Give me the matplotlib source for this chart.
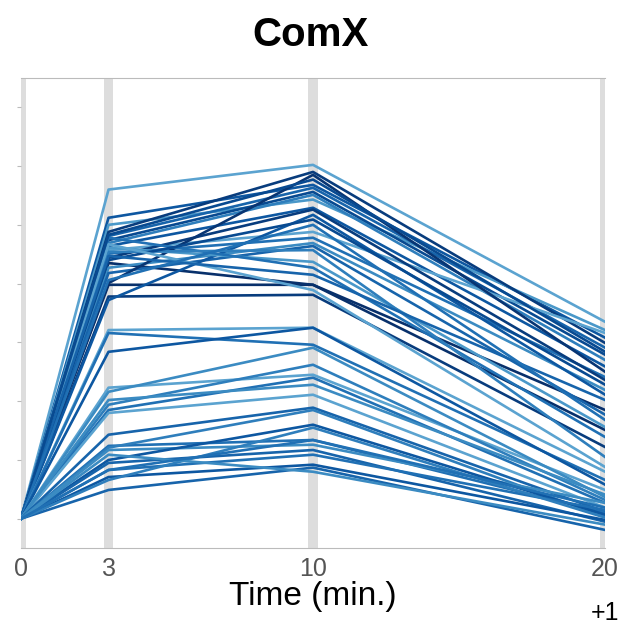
import numpy as np
import matplotlib.pyplot as plt

plt.rcParams['font.family'] = ['Liberation Sans', 'DejaVu Sans']

# time points (min.)
times = [0, 3, 10, 20]
tick_labels = ['0', '3', '10', '20']

# values at t=3, t=10, t=20 (all series start at 0)
v3 = [5.60, 5.12, 5.00, 4.88, 4.81, 4.74, 4.69, 4.64, 4.57, 4.51,
      4.44, 4.35, 4.27, 4.18, 4.01, 3.98, 3.78, 3.72, 4.61, 4.78,
      4.54, 4.40, 4.67, 4.47, 4.83, 4.06,
      3.21, 3.16, 2.84,
      2.23, 2.16, 1.94, 1.85, 1.80, 2.02,
      1.43, 1.24, 1.21, 1.17, 1.00, 0.95, 0.83, 0.71, 0.49, 0.66, 1.09, 0.83]
v10 = [6.02, 5.68, 5.43, 5.90, 5.63, 5.56, 5.51, 5.29, 4.88, 4.78,
       5.26, 3.98, 4.69, 4.64, 5.85, 3.98, 3.81, 5.17, 4.37, 4.27,
       4.57, 5.09, 3.89, 4.15, 5.77, 5.00,
       3.25, 2.96, 3.25,
       2.45, 2.91, 2.62, 2.40, 2.11, 2.28,
       1.89, 1.34, 1.85, 1.26, 1.60, 1.17, 1.09, 0.92, 0.87, 1.55, 0.80, 1.34]
v20 = [3.35, 3.08, 3.21, 2.99, 2.91, 2.79, 2.70, 2.59, 3.16, 2.41,
       2.36, 1.85, 2.19, 1.77, 2.50, 1.51, 1.22, 2.11, 1.56, 1.39,
       1.05, 2.28, 0.88, 2.02, 2.84, 1.68,
       0.80, 0.66, 0.58,
       0.49, 0.37, 0.32, 0.27, 0.19, 0.41,
       0.12, 0.10, 0.03, 0.27, 0.07, -0.05, 0.15, -0.02, -0.19, 0.02, -0.10, 0.19]

# colour shade of each series in the Blues map
shade = [0.55, 0.85, 0.60, 0.95, 0.80, 0.90, 0.70, 0.85, 0.55, 0.75,
         0.95, 1.00, 0.65, 0.80, 0.98, 1.00, 0.95, 0.85, 0.60, 0.75,
         0.70, 0.90, 0.55, 0.80, 0.90, 0.75,
         0.55, 0.75, 0.85,
         0.55, 0.65, 0.70, 0.75, 0.55, 0.65,
         0.80, 0.75, 0.70, 0.65, 0.85, 0.80, 0.75, 0.85, 0.80, 0.70, 0.65, 0.75]

fig = plt.figure(figsize=(6.33, 6.33), dpi=100)
ax = fig.add_axes([0.033, 0.134, 0.923, 0.743])

# grey bands at the sampled time points
for t in times:
    ax.axvspan(t - 0.16, t + 0.16, color='#dddddd', zorder=0, lw=0)

cmap = plt.cm.Blues
for a, b, c, s in zip(v3, v10, v20, shade):
    ax.plot(times, [0, a, b, c], color=cmap(s), lw=1.9, zorder=2)

ax.set_xlim(0, 20)
ax.set_ylim(-0.5, 7.5)
ax.set_xticks(times)
ax.set_xticklabels(tick_labels)
ax.set_yticks(range(0, 8))
ax.set_yticklabels([])
ax.tick_params(axis='x', length=0, labelsize=18, labelcolor='#555555', pad=6)
ax.tick_params(axis='y', length=3, color='#bbbbbb', width=0.8)
for side in ['left', 'right']:
    ax.spines[side].set_visible(False)
for side in ['top', 'bottom']:
    ax.spines[side].set_color('#bbbbbb')
    ax.spines[side].set_linewidth(0.8)

ax.set_xlabel('Time (min.)', fontsize=24, labelpad=0)
fig.suptitle('ComX', fontsize=29, fontweight='bold', x=0.49, y=0.975)
fig.text(0.978, 0.012, '+1', fontsize=18, ha='right', va='bottom')

fig.savefig('out.png', dpi=100)
